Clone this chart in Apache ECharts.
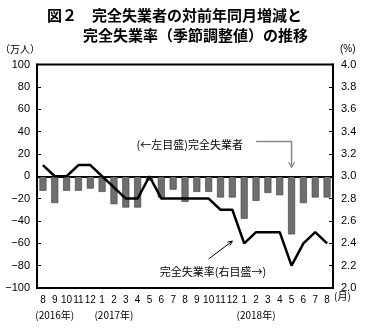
<!DOCTYPE html>
<html><head><meta charset="utf-8">
<script src="https://cdn.jsdelivr.net/npm/echarts@6/dist/echarts.min.js"></script>
<style>html,body{margin:0;padding:0;background:#fff}#c{width:372px;height:331px}</style>
</head><body><div id="c"></div>
<script>
// Categories: Aug 2016 .. Aug 2018
const months = ['8','9','10','11','12','1','2','3','4','5','6','7','8','9','10','11','12','1','2','3','4','5','6','7','8'];
const yearLabels = ['','(2016年)','','','','','(2017年)','','','','','','','','','','','','(2018年)','','','','','',''];
// 完全失業者 対前年同月増減 (万人)
const unemployedChange = [-13,-24,-13,-13,-11,-14,-25,-28,-28,-4,-19,-12,-23,-14,-14,-19,-19,-38,-22,-15,-17,-52,-24,-19,-19];
// 完全失業率 季節調整値 (%)
const unemploymentRate = [3.1,3.0,3.0,3.1,3.1,3.0,2.9,2.8,2.8,3.0,2.8,2.8,2.8,2.8,2.8,2.7,2.7,2.4,2.5,2.5,2.5,2.2,2.4,2.5,2.4];
const leftAxis = {min:-100, max:100, step:20};
const rightAxis = {min:2.0, max:4.0, step:0.2};
const titleLines = ['図２　完全失業者の対前年同月増減と','完全失業率（季節調整値）の推移'];
const leftUnit = '（万人）';
const rightUnit = '(%)';
const monthUnit = '(月)';
const noteLeft = '(←左目盛)完全失業者';
const noteRight = '完全失業率(右目盛→)';

const FONT = "'Liberation Sans','Noto Sans CJK JP',sans-serif";
const CJK = "'Noto Sans CJK JP','Liberation Sans',sans-serif";

const chart = echarts.init(document.getElementById('c'), null, {renderer:'canvas'});
chart.setOption({
  animation:false,
  backgroundColor:'#fff',
  textStyle:{fontFamily:FONT, color:'#000'},
  grid:{left:37, right:39, top:64.5, bottom:43, show:true, borderColor:'#000', borderWidth:2, backgroundColor:'transparent'},
  xAxis:{
    type:'category', data:months, boundaryGap:true,
    axisLine:{show:true, lineStyle:{color:'#000', width:2}},
    axisTick:{show:false},
    axisLabel:{interval:0, color:'#000', fontSize:10, margin:5, lineHeight:15, fontFamily:FONT,
      formatter:(v,i)=> yearLabels[i] ? v + '\n{y|' + yearLabels[i] + '}' : v,
      rich:{y:{fontSize:10, lineHeight:15, fontFamily:CJK, color:'#000'}}
    },
    splitLine:{show:false}
  },
  yAxis:[{
    type:'value', min:leftAxis.min, max:leftAxis.max, interval:leftAxis.step, position:'left',
    axisLine:{show:true, lineStyle:{color:'#000', width:2}},
    axisTick:{show:true, inside:true, length:4, lineStyle:{color:'#000', width:1}},
    axisLabel:{color:'#000', fontSize:11, margin:7, fontFamily:FONT, formatter:v=> v<0 ? '−'+Math.abs(v) : String(v)},
    splitLine:{show:false}
  },{
    type:'value', min:rightAxis.min, max:rightAxis.max, interval:rightAxis.step, position:'right',
    axisLine:{show:true, lineStyle:{color:'#000', width:2}},
    axisTick:{show:true, inside:true, length:4, lineStyle:{color:'#000', width:1}},
    axisLabel:{color:'#000', fontSize:11, margin:8, fontFamily:FONT, formatter:v=>v.toFixed(1)},
    splitLine:{show:false}
  }],
  series:[{
    type:'bar', yAxisIndex:0, data:unemployedChange, barWidth:7,
    itemStyle:{color:'#6f6f6f', borderColor:'#3a3a3a', borderWidth:0.6},
    markLine:{silent:true, symbol:'none', label:{show:false}, lineStyle:{color:'#000', width:1, type:'solid'}, data:[{yAxis:0}]},
    z:2
  },{
    type:'line', yAxisIndex:1, data:unemploymentRate, symbol:'none',
    lineStyle:{color:'#000', width:2.5}, z:5
  }],
  graphic:[
    {type:'text', left:47, top:8, style:{text:titleLines[0], font:"bold 15px 'Noto Sans CJK JP'", fill:'#000'}},
    {type:'text', left:83, top:28, style:{text:titleLines[1], font:"bold 15px 'Noto Sans CJK JP'", fill:'#000'}},
    {type:'text', left:0, top:44, style:{text:leftUnit, font:"10px 'Noto Sans CJK JP'", fill:'#000'}},
    {type:'text', left:340, top:44, style:{text:rightUnit, font:"10px 'Liberation Sans'", fill:'#000'}},
    {type:'text', left:334, top:291, style:{text:monthUnit, font:"10px 'Noto Sans CJK JP'", fill:'#000'}}
  ]
});

// Annotations anchored to the chart's own scales
const pL = (i,v)=>chart.convertToPixel({xAxisIndex:0,yAxisIndex:0},[i,v]);
const pR = (i,v)=>chart.convertToPixel({xAxisIndex:0,yAxisIndex:1},[i,v]);
const a1 = pL(18,31), a2 = pL(21,31), a3 = pL(21,8);
const b1 = pR(14.4,2.26), b2 = pR(16.25,2.42);
const ang = Math.atan2(b2[1]-b1[1], b2[0]-b1[0]);
const h = 5;
const bh1 = [b2[0]-h*Math.cos(ang-0.45), b2[1]-h*Math.sin(ang-0.45)];
const bh2 = [b2[0]-h*Math.cos(ang+0.45), b2[1]-h*Math.sin(ang+0.45)];
chart.setOption({graphic:[
  {type:'text', left:47, top:8, style:{text:titleLines[0], font:"bold 15px 'Noto Sans CJK JP'", fill:'#000'}},
  {type:'text', left:83, top:28, style:{text:titleLines[1], font:"bold 15px 'Noto Sans CJK JP'", fill:'#000'}},
  {type:'text', left:0, top:44, style:{text:leftUnit, font:"10px 'Noto Sans CJK JP'", fill:'#000'}},
  {type:'text', left:340, top:44, style:{text:rightUnit, font:"10px 'Liberation Sans'", fill:'#000'}},
  {type:'text', left:334, top:291, style:{text:monthUnit, font:"10px 'Noto Sans CJK JP'", fill:'#000'}},
  {type:'text', x:a1[0]-13, y:a1[1]+3, style:{text:noteLeft, font:"11px 'Noto Sans CJK JP'", fill:'#000', align:'right', verticalAlign:'middle'}},
  {type:'polyline', shape:{points:[a1,a2,a3]}, style:{stroke:'#888', lineWidth:1.5, fill:null}, z:10},
  {type:'polyline', shape:{points:[[a3[0]-3,a3[1]-5],a3,[a3[0]+3,a3[1]-5]]}, style:{stroke:'#888', lineWidth:1.2, fill:null}, z:10},
  {type:'line', shape:{x1:b1[0],y1:b1[1],x2:b2[0],y2:b2[1]}, style:{stroke:'#000', lineWidth:1}, z:10},
  {type:'polyline', shape:{points:[bh1,b2,bh2]}, style:{stroke:'#000', lineWidth:1, fill:null}, z:10},
  {type:'text', x:213, y:272, style:{text:noteRight, font:"11px 'Noto Sans CJK JP'", fill:'#000', align:'center', verticalAlign:'middle'}}
]});
</script>
</body></html>
